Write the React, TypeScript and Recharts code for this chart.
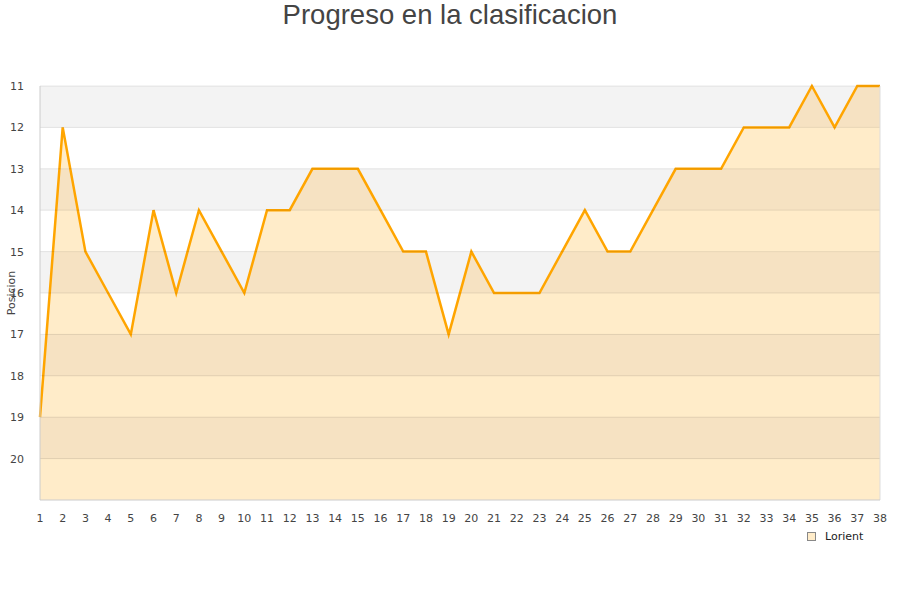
import React from "react";
import { AreaChart, Area, XAxis, YAxis, ReferenceArea, ReferenceLine } from "recharts";

const jornadas = [
  1, 2, 3, 4, 5, 6, 7, 8, 9, 10, 11, 12, 13, 14, 15, 16, 17, 18, 19,
  20, 21, 22, 23, 24, 25, 26, 27, 28, 29, 30, 31, 32, 33, 34, 35, 36, 37, 38,
];
const posiciones = [
  19, 12, 15, 16, 17, 14, 16, 14, 15, 16, 14, 14, 13, 13, 13, 14, 15, 15, 17,
  15, 16, 16, 16, 15, 14, 15, 15, 14, 13, 13, 13, 12, 12, 12, 11, 12, 11, 11,
];
const yTicks = [11, 12, 13, 14, 15, 16, 17, 18, 19, 20];
const bands = [11, 13, 15, 17, 19];
const yMin = 11;
const yMax = 21;

const data = jornadas.map((j, i) => ({ jornada: j, pos: posiciones[i] }));

const tickStyle = { fontSize: 11, fill: "#444", fontFamily: "DejaVu Sans" };

// hard-stop gradient so the alternating bands show through the area fill
const bandStops: { offset: number; color: string }[] = [];
for (let v = yMin; v < yMax; v++) {
  const color = bands.includes(v) ? "#f6e2c2" : "#ffecc9";
  bandStops.push({ offset: (v - yMin) / (yMax - yMin), color });
  bandStops.push({ offset: (v + 1 - yMin) / (yMax - yMin), color });
}

export default function App() {
  return (
    <div style={{ position: "absolute", left: 0, top: 0, width: 900, height: 600, background: "#fff" }}>
      <div
        style={{
          position: "absolute",
          top: -1,
          width: 900,
          textAlign: "center",
          fontFamily: "Liberation Sans",
          fontSize: 27.5,
          color: "#444",
          lineHeight: "32px",
        }}
      >
        Progreso en la clasificacion
      </div>
      <AreaChart
        width={900}
        height={600}
        data={data}
        margin={{ top: 86, right: 20, bottom: 80, left: 0 }}
      >
        <defs>
          <linearGradient id="bandFill" x1="0" y1="0" x2="0" y2="1">
            {bandStops.map((s, i) => (
              <stop key={i} offset={s.offset} stopColor={s.color} />
            ))}
          </linearGradient>
        </defs>
        {bands.map((b) => (
          <ReferenceArea key={b} y1={b} y2={b + 1} fill="#000" fillOpacity={0.047} stroke="none" ifOverflow="visible" />
        ))}
        <XAxis
          dataKey="jornada"
          type="number"
          domain={[1, 38]}
          ticks={jornadas}
          interval={0}
          height={20}
          tickLine={false}
          tickMargin={8}
          axisLine={{ stroke: "#ccc" }}
          tick={tickStyle}
        />
        <YAxis
          type="number"
          domain={[yMin, yMax]}
          reversed
          ticks={yTicks}
          width={40}
          tickLine={false}
          tickMargin={10}
          axisLine={{ stroke: "#ccc" }}
          tick={tickStyle}
          label={{
            value: "Posicion",
            angle: -90,
            position: "insideLeft",
            offset: 11,
            style: { fontSize: 11, fill: "#444", fontFamily: "DejaVu Sans", textAnchor: "middle" },
          }}
        />
        {yTicks.map((t) => (
          <ReferenceLine key={t} y={t} stroke="#000" strokeOpacity={0.09} />
        ))}
        <ReferenceLine x={38} stroke="#ddd" />
        <Area
          type="linear"
          dataKey="pos"
          baseValue={yMax}
          stroke="#ffa500"
          strokeWidth={2.5}
          fill="url(#bandFill)"
          fillOpacity={1}
          dot={false}
          activeDot={false}
          isAnimationActive={false}
        />
      </AreaChart>
      <div
        style={{
          position: "absolute",
          left: 807,
          top: 530,
          display: "flex",
          alignItems: "center",
          fontFamily: "DejaVu Sans",
          fontSize: 11,
          color: "#222",
        }}
      >
        <span
          style={{
            display: "inline-block",
            width: 7,
            height: 7,
            background: "#ffecc9",
            border: "1px solid #888",
            marginRight: 9,
          }}
        />
        Lorient
      </div>
    </div>
  );
}
